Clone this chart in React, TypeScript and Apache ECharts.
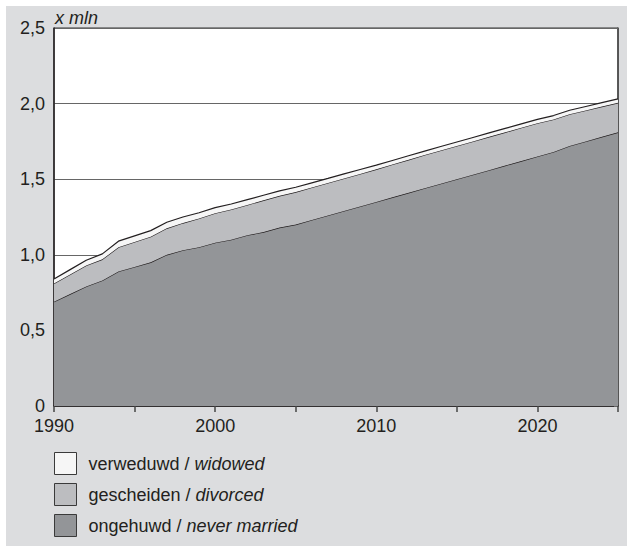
import React, { useEffect, useRef } from "react";
import * as echarts from "echarts";

const years = [1990,1991,1992,1993,1994,1995,1996,1997,1998,1999,2000,2001,2002,2003,2004,2005,2006,2007,2008,2009,2010,2011,2012,2013,2014,2015,2016,2017,2018,2019,2020,2021,2022,2023,2024,2025];
const neverMarried = [0.69,0.74,0.79,0.83,0.89,0.92,0.95,1.00,1.03,1.05,1.08,1.10,1.13,1.15,1.18,1.20,1.23,1.26,1.29,1.32,1.35,1.38,1.41,1.44,1.47,1.50,1.53,1.56,1.59,1.62,1.65,1.68,1.72,1.75,1.78,1.81];
const divorced = [0.12,0.13,0.14,0.14,0.16,0.165,0.17,0.175,0.18,0.19,0.195,0.20,0.20,0.21,0.21,0.215,0.215,0.215,0.215,0.215,0.215,0.217,0.218,0.22,0.22,0.22,0.22,0.22,0.22,0.22,0.22,0.215,0.21,0.205,0.20,0.195];
const widowed = [0.03,0.032,0.034,0.036,0.04,0.04,0.04,0.04,0.04,0.038,0.037,0.036,0.035,0.034,0.033,0.032,0.031,0.03,0.03,0.029,0.028,0.027,0.027,0.026,0.026,0.026,0.026,0.026,0.026,0.026,0.026,0.026,0.026,0.026,0.026,0.026];

const seriesNames = ["ongehuwd / never married", "gescheiden / divorced", "verweduwd / widowed"];
const seriesColors = ["#939598", "#bcbdc0", "#f6f6f6"];
const yTickLabels = ["0", "0,5", "1,0", "1,5", "2,0", "2,5"];
const unitLabel = "x mln";

const FONT = "Arial, 'Liberation Sans', Helvetica, sans-serif";
const INK = "#231f20";

export default function App() {
  const ref = useRef<HTMLDivElement>(null);
  useEffect(() => {
    document.body.style.margin = "0";
    const chart = echarts.init(ref.current!, null, { renderer: "svg" });
    const seriesData = [neverMarried, divorced, widowed];
    chart.setOption({
      animation: false,
      backgroundColor: "#dcdddf",
      textStyle: { fontFamily: FONT },
      grid: {
        left: 48,
        top: 22,
        right: 9,
        bottom: 140,
        show: true,
        backgroundColor: "#ffffff",
        borderColor: "#333333",
        borderWidth: 1,
      },
      graphic: [
        {
          type: "text",
          left: 49,
          top: 3,
          style: {
            text: unitLabel,
            font: `italic 18px ${FONT}`,
            fill: INK,
          },
        },
      ],
      legend: {
        orient: "vertical",
        left: 48,
        top: 446,
        padding: 0,
        itemWidth: 22,
        itemHeight: 22,
        itemGap: 8,
        icon: "rect",
        selectedMode: false,
        data: [seriesNames[2], seriesNames[1], seriesNames[0]],
        itemStyle: { borderColor: "#3a3a3a", borderWidth: 1 },
        formatter: (name: string) => {
          const [nl, en] = name.split(" / ");
          return `{a|${nl} / }{b|${en}}`;
        },
        textStyle: {
          rich: {
            a: { fontSize: 18, color: INK, fontFamily: FONT, padding: [0, 0, 0, 7] },
            b: { fontSize: 18, color: INK, fontFamily: FONT, fontStyle: "italic" },
          },
        },
      },
      xAxis: {
        type: "category",
        boundaryGap: false,
        data: years.map(String),
        axisLine: { show: true, lineStyle: { color: INK, width: 1.5 } },
        axisTick: {
          show: true,
          length: 6,
          interval: (_i: number, v: string) => Number(v) % 5 === 0,
          lineStyle: { color: "#444", width: 1.5 },
        },
        splitLine: { show: false },
        axisLabel: {
          margin: 11,
          fontSize: 18,
          color: INK,
          fontFamily: FONT,
          interval: (_i: number, v: string) => Number(v) % 10 === 0,
        },
      },
      yAxis: [
        {
          type: "value",
          min: 0,
          max: 2.5,
          interval: 0.5,
          axisLine: { show: true, lineStyle: { color: INK, width: 1.5 } },
          axisTick: { show: false },
          splitLine: { show: true, lineStyle: { color: "#666", width: 1 } },
          axisLabel: {
            margin: 9,
            fontSize: 18,
            color: INK,
            fontFamily: FONT,
            formatter: (v: number) => yTickLabels[Math.round(v / 0.5)],
          },
        },
        {
          type: "value",
          position: "right",
          min: 0,
          max: 2.5,
          interval: 0.5,
          axisLine: { show: true, lineStyle: { color: "#444", width: 1.5 } },
          axisTick: { show: true, inside: true, length: 4, lineStyle: { color: "#666" } },
          splitLine: { show: false },
          axisLabel: { show: false },
        },
      ],
      series: seriesNames.map((name, i) => ({
        name,
        type: "line",
        stack: "total",
        symbol: "none",
        yAxisIndex: 0,
        data: seriesData[i],
        lineStyle: { color: INK, width: 1.2 },
        areaStyle: { color: seriesColors[i], opacity: 1 },
        itemStyle: { color: seriesColors[i] },
        z: 2 + i,
      })),
    });
    return () => chart.dispose();
  }, []);

  return (
    <div style={{ position: "absolute", left: 0, top: 0, width: 627, height: 546, background: "#ffffff" }}>
      <div ref={ref} style={{ position: "absolute", left: 6, top: 6, width: 621, height: 540 }} />
    </div>
  );
}
